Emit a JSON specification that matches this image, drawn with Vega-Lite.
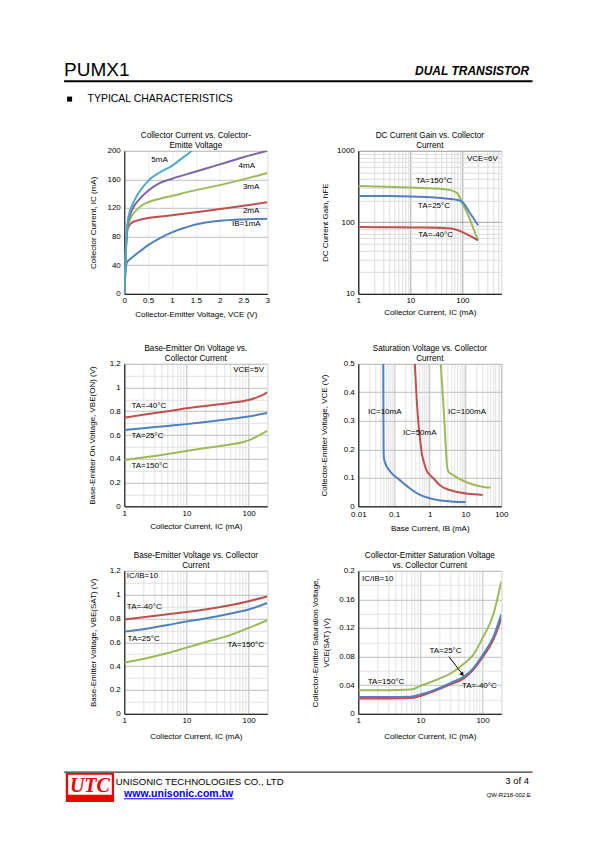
{
"$schema": "https://vega.github.io/schema/vega-lite/v6.json",
"background": "white",
"padding": {"left": 62.3, "top": 57.8, "right": 0, "bottom": 5},
"columns": 2,
"bounds": "flush",
"align": "none",
"spacing": {"row": 0, "column": 91},
"resolve": {"scale": {"color": "independent"}, "legend": {"color": "independent"}},
"config": {
 "font": "Liberation Sans, Arial, sans-serif",
 "view": {"stroke": null},
 "axis": {"labelFontSize": 8, "labelColor": "#000", "titleFontSize": 8, "titleFontWeight": "normal", "titleColor": "#000", "titleBaseline": "middle", "ticks": false, "domainColor": "#000", "domainWidth": 1, "gridColor": "#bfbfbf", "labelFlush": false, "labelOverlap": false, "labelPadding": 3},
 "axisY": {"labelPadding": 4},
 "title": {"fontSize": 8.2, "fontWeight": "normal", "color": "#000", "offset": -3, "lineHeight": 10},
 "text": {"fontSize": 8, "color": "#000", "baseline": "middle"}
},
"concat": [
{
 "width": 143, "height": 92.3, "view": {"stroke": null},
 "data": {"values": [{"part": "brand", "label": "PUMX1"}, {"part": "kind", "label": "DUAL TRANSISTOR"}, {"part": "section", "label": "TYPICAL CHARACTERISTICS"}]},
 "layer": [
  {"transform": [{"filter": "datum.part === 'brand'"}], "mark": {"type": "rule", "color": "#000", "strokeWidth": 2},
   "encoding": {"x": {"datum": -60.2, "type": "quantitative", "scale": {"domain": [0, 143], "nice": false, "zero": false}, "axis": null}, "x2": {"datum": 408.2}, "y": {"datum": 23.5, "type": "quantitative", "scale": {"domain": [0, 92.3], "reverse": true, "nice": false, "zero": false}, "axis": null}}},
  {"transform": [{"filter": "datum.part === 'brand'"}], "mark": {"type": "text", "align": "left", "baseline": "alphabetic", "fontSize": 19, "color": "#000"},
   "encoding": {"x": {"datum": -60.2, "type": "quantitative"}, "y": {"datum": 18.5, "type": "quantitative"}, "text": {"field": "label"}}},
  {"transform": [{"filter": "datum.part === 'kind'"}], "mark": {"type": "text", "align": "right", "baseline": "alphabetic", "fontSize": 12, "fontWeight": "bold", "fontStyle": "italic", "color": "#000"},
   "encoding": {"x": {"datum": 404.8, "type": "quantitative"}, "y": {"datum": 17.5, "type": "quantitative"}, "text": {"field": "label"}}},
  {"transform": [{"filter": "datum.part === 'section'"}], "mark": {"type": "point", "shape": "square", "filled": true, "size": 25, "color": "#000", "opacity": 1},
   "encoding": {"x": {"datum": -54.7, "type": "quantitative"}, "y": {"datum": 41.3, "type": "quantitative"}}},
  {"transform": [{"filter": "datum.part === 'section'"}], "mark": {"type": "text", "align": "left", "baseline": "alphabetic", "fontSize": 10.5, "color": "#000"},
   "encoding": {"x": {"datum": -36.8, "type": "quantitative"}, "y": {"datum": 44.2, "type": "quantitative"}, "text": {"field": "label"}}}
 ]
},
{"width": 1, "height": 92.3, "view": {"stroke": null}, "data": {"values": []}, "mark": "point"},
{
 "width": 143, "height": 143, "view": {"stroke": "#d9d9d9"},
 "title": {"text": ["Collector Current vs. Colector-", "Emitte Voltage"]},
 "encoding": {
  "x": {"field": "x", "type": "quantitative", "scale": {"domain": [0, 3], "nice": false}, "axis": {"title": "Collector-Emitter Voltage, VCE (V)", "values": [0, 0.5, 1, 1.5, 2, 2.5, 3], "format": "~g", "gridColor": "#ebebeb", "titleY": 20.3}},
  "y": {"field": "y", "type": "quantitative", "scale": {"domain": [0, 200], "nice": false}, "axis": {"title": "Collector Current, IC (mA)", "values": [0, 40, 80, 120, 160, 200], "titleX": -30.6}}
 },
 "layer": [
  {"data": {"values": [
   {"x": 0, "y": 0, "s": "1mA"}, {"x": 0.03, "y": 33, "s": "1mA"}, {"x": 0.05, "y": 43, "s": "1mA"}, {"x": 0.08, "y": 46, "s": "1mA"}, {"x": 0.15, "y": 50, "s": "1mA"}, {"x": 0.3, "y": 58, "s": "1mA"}, {"x": 0.5, "y": 68, "s": "1mA"}, {"x": 0.75, "y": 78, "s": "1mA"}, {"x": 1, "y": 86, "s": "1mA"}, {"x": 1.25, "y": 92, "s": "1mA"}, {"x": 1.5, "y": 97, "s": "1mA"}, {"x": 1.75, "y": 100, "s": "1mA"}, {"x": 2, "y": 102, "s": "1mA"}, {"x": 2.5, "y": 104, "s": "1mA"}, {"x": 3, "y": 105, "s": "1mA"},
   {"x": 0, "y": 0, "s": "2mA"}, {"x": 0.03, "y": 55, "s": "2mA"}, {"x": 0.06, "y": 88, "s": "2mA"}, {"x": 0.1, "y": 95, "s": "2mA"}, {"x": 0.15, "y": 99, "s": "2mA"}, {"x": 0.25, "y": 102, "s": "2mA"}, {"x": 0.5, "y": 106, "s": "2mA"}, {"x": 0.75, "y": 108, "s": "2mA"}, {"x": 1, "y": 110, "s": "2mA"}, {"x": 1.5, "y": 114, "s": "2mA"}, {"x": 2, "y": 118.5, "s": "2mA"}, {"x": 2.5, "y": 123, "s": "2mA"}, {"x": 3, "y": 128, "s": "2mA"},
   {"x": 0, "y": 0, "s": "3mA"}, {"x": 0.03, "y": 56, "s": "3mA"}, {"x": 0.07, "y": 92, "s": "3mA"}, {"x": 0.12, "y": 104, "s": "3mA"}, {"x": 0.2, "y": 113, "s": "3mA"}, {"x": 0.3, "y": 120, "s": "3mA"}, {"x": 0.4, "y": 125, "s": "3mA"}, {"x": 0.5, "y": 128, "s": "3mA"}, {"x": 0.75, "y": 133, "s": "3mA"}, {"x": 1, "y": 137, "s": "3mA"}, {"x": 1.5, "y": 145, "s": "3mA"}, {"x": 2, "y": 152, "s": "3mA"}, {"x": 2.5, "y": 160, "s": "3mA"}, {"x": 3, "y": 169, "s": "3mA"},
   {"x": 0, "y": 0, "s": "4mA"}, {"x": 0.03, "y": 58, "s": "4mA"}, {"x": 0.07, "y": 96, "s": "4mA"}, {"x": 0.12, "y": 110, "s": "4mA"}, {"x": 0.2, "y": 122, "s": "4mA"}, {"x": 0.3, "y": 131, "s": "4mA"}, {"x": 0.5, "y": 144, "s": "4mA"}, {"x": 0.75, "y": 155, "s": "4mA"}, {"x": 1, "y": 161, "s": "4mA"}, {"x": 1.5, "y": 171, "s": "4mA"}, {"x": 2, "y": 181, "s": "4mA"}, {"x": 2.5, "y": 191, "s": "4mA"}, {"x": 3, "y": 200, "s": "4mA"},
   {"x": 0, "y": 0, "s": "5mA"}, {"x": 0.03, "y": 60, "s": "5mA"}, {"x": 0.07, "y": 100, "s": "5mA"}, {"x": 0.12, "y": 116, "s": "5mA"}, {"x": 0.2, "y": 129, "s": "5mA"}, {"x": 0.3, "y": 141, "s": "5mA"}, {"x": 0.5, "y": 158, "s": "5mA"}, {"x": 0.75, "y": 170, "s": "5mA"}, {"x": 1, "y": 179, "s": "5mA"}, {"x": 1.2, "y": 189, "s": "5mA"}, {"x": 1.42, "y": 200, "s": "5mA"}
  ]},
   "mark": {"type": "line", "interpolate": "monotone", "strokeWidth": 2, "clip": true},
   "encoding": {"color": {"field": "s", "type": "nominal", "scale": {"domain": ["1mA", "2mA", "3mA", "4mA", "5mA"], "range": ["#4F81BD", "#C0504D", "#9BBB59", "#8064A2", "#4BACC6"]}, "legend": null}}},
  {"data": {"values": [{"x": 0.74, "y": 187, "t": "5mA"}, {"x": 2.57, "y": 179, "t": "4mA"}, {"x": 2.66, "y": 150, "t": "3mA"}, {"x": 2.66, "y": 116, "t": "2mA"}, {"x": 2.56, "y": 97, "t": "IB=1mA"}]},
   "mark": {"type": "text", "align": "center"}, "encoding": {"text": {"field": "t"}}}
 ]
},
{
 "width": 143, "height": 143, "view": {"stroke": "#d9d9d9"},
 "title": {"text": ["DC Current Gain vs. Collector", "Current"]},
 "encoding": {
  "x": {"field": "x", "type": "quantitative", "scale": {"type": "log", "domain": [1, 560], "nice": false}, "axis": {"title": "Collector Current, IC (mA)", "values": [1, 2, 3, 4, 5, 6, 7, 8, 9, 10, 20, 30, 40, 50, 60, 70, 80, 90, 100, 200, 300, 400, 500], "format": "~g", "labelExpr": "abs(log(datum.value)/LN10 - round(log(datum.value)/LN10)) < 0.001 ? datum.label : ''", "gridColor": {"condition": {"test": "abs(log(datum.value)/LN10 - round(log(datum.value)/LN10)) < 0.001", "value": "#a6a6a6"}, "value": "#dcdcdc"}, "titleY": 18.4}},
  "y": {"field": "y", "type": "quantitative", "scale": {"type": "log", "domain": [10, 1000], "nice": false}, "axis": {"title": "DC Current Gain, hFE", "values": [10, 20, 30, 40, 50, 60, 70, 80, 90, 100, 200, 300, 400, 500, 600, 700, 800, 900, 1000], "format": "~g", "labelExpr": "abs(log(datum.value)/LN10 - round(log(datum.value)/LN10)) < 0.001 ? datum.label : ''", "gridColor": {"condition": {"test": "abs(log(datum.value)/LN10 - round(log(datum.value)/LN10)) < 0.001", "value": "#a6a6a6"}, "value": "#dcdcdc"}, "titleX": -32.7}}
 },
 "layer": [
  {"data": {"values": [
   {"x": 1, "y": 322, "s": "150"}, {"x": 2, "y": 318, "s": "150"}, {"x": 5, "y": 312, "s": "150"}, {"x": 10, "y": 306, "s": "150"}, {"x": 20, "y": 300, "s": "150"}, {"x": 40, "y": 292, "s": "150"}, {"x": 60, "y": 282, "s": "150"}, {"x": 80, "y": 255, "s": "150"}, {"x": 100, "y": 185, "s": "150"}, {"x": 140, "y": 110, "s": "150"}, {"x": 170, "y": 75, "s": "150"}, {"x": 200, "y": 56, "s": "150"},
   {"x": 1, "y": 234, "s": "25"}, {"x": 3, "y": 233, "s": "25"}, {"x": 10, "y": 230, "s": "25"}, {"x": 30, "y": 222, "s": "25"}, {"x": 60, "y": 212, "s": "25"}, {"x": 80, "y": 205, "s": "25"}, {"x": 100, "y": 192, "s": "25"}, {"x": 140, "y": 135, "s": "25"}, {"x": 200, "y": 91, "s": "25"},
   {"x": 1, "y": 86, "s": "-40"}, {"x": 5, "y": 85, "s": "-40"}, {"x": 10, "y": 84.5, "s": "-40"}, {"x": 30, "y": 84, "s": "-40"}, {"x": 60, "y": 82, "s": "-40"}, {"x": 80, "y": 78, "s": "-40"}, {"x": 100, "y": 73, "s": "-40"}, {"x": 150, "y": 63, "s": "-40"}, {"x": 200, "y": 56, "s": "-40"}
  ]},
   "mark": {"type": "line", "interpolate": "monotone", "strokeWidth": 2, "clip": true},
   "encoding": {"color": {"field": "s", "type": "nominal", "scale": {"domain": ["-40", "25", "150"], "range": ["#C0504D", "#4F81BD", "#9BBB59"]}, "legend": null}}},
  {"data": {"values": [{"x": 28.4, "y": 383, "t": "TA=150°C"}, {"x": 28.4, "y": 168, "t": "TA=25°C"}, {"x": 30.6, "y": 67, "t": "TA=-40°C"}]},
   "mark": {"type": "text", "align": "center"}, "encoding": {"text": {"field": "t"}}},
  {"data": {"values": [{"x": 480, "y": 774, "t": "VCE=6V"}]},
   "mark": {"type": "text", "align": "right"}, "encoding": {"text": {"field": "t"}}}
 ]
},
{"width": 143, "height": 69.7, "view": {"stroke": null}, "data": {"values": []}, "mark": "point"},
{"width": 1, "height": 69.7, "view": {"stroke": null}, "data": {"values": []}, "mark": "point"},
{
 "width": 143, "height": 142.5, "view": {"stroke": "#d9d9d9"},
 "title": {"text": ["Base-Emitter On Voltage vs.", "Collector Current"]},
 "encoding": {
  "x": {"field": "x", "type": "quantitative", "scale": {"type": "log", "domain": [1, 200], "nice": false}, "axis": {"title": "Collector Current, IC (mA)", "values": [1, 2, 3, 4, 5, 6, 7, 8, 9, 10, 20, 30, 40, 50, 60, 70, 80, 90, 100, 200], "format": "~g", "labelExpr": "abs(log(datum.value)/LN10 - round(log(datum.value)/LN10)) < 0.001 ? datum.label : ''", "gridColor": {"condition": {"test": "abs(log(datum.value)/LN10 - round(log(datum.value)/LN10)) < 0.001", "value": "#bfbfbf"}, "value": "#e3e3e3"}, "titleY": 20}},
  "y": {"field": "y", "type": "quantitative", "scale": {"domain": [0, 1.2], "nice": false}, "axis": {"title": "Base-Emitter On Voltage, VBE(ON) (V)", "values": [0, 0.1, 0.2, 0.3, 0.4, 0.5, 0.6, 0.7, 0.8, 0.9, 1, 1.1, 1.2], "format": "~g", "labelExpr": "round(datum.value*10) % 2 == 0 ? datum.label : ''", "gridColor": {"condition": {"test": "round(datum.value*10) % 2 == 0", "value": "#bfbfbf"}, "value": "#e3e3e3"}, "titleX": -31.6}}
 },
 "layer": [
  {"data": {"values": [
   {"x": 1, "y": 0.745, "s": "-40"}, {"x": 2, "y": 0.77, "s": "-40"}, {"x": 5, "y": 0.8, "s": "-40"}, {"x": 10, "y": 0.825, "s": "-40"}, {"x": 20, "y": 0.845, "s": "-40"}, {"x": 50, "y": 0.87, "s": "-40"}, {"x": 100, "y": 0.895, "s": "-40"}, {"x": 150, "y": 0.925, "s": "-40"}, {"x": 200, "y": 0.96, "s": "-40"},
   {"x": 1, "y": 0.642, "s": "25"}, {"x": 2, "y": 0.657, "s": "25"}, {"x": 5, "y": 0.677, "s": "25"}, {"x": 10, "y": 0.692, "s": "25"}, {"x": 20, "y": 0.71, "s": "25"}, {"x": 50, "y": 0.735, "s": "25"}, {"x": 100, "y": 0.757, "s": "25"}, {"x": 200, "y": 0.785, "s": "25"},
   {"x": 1, "y": 0.39, "s": "150"}, {"x": 2, "y": 0.41, "s": "150"}, {"x": 5, "y": 0.44, "s": "150"}, {"x": 10, "y": 0.465, "s": "150"}, {"x": 20, "y": 0.49, "s": "150"}, {"x": 50, "y": 0.52, "s": "150"}, {"x": 80, "y": 0.54, "s": "150"}, {"x": 100, "y": 0.555, "s": "150"}, {"x": 150, "y": 0.6, "s": "150"}, {"x": 200, "y": 0.635, "s": "150"}
  ]},
   "mark": {"type": "line", "interpolate": "monotone", "strokeWidth": 2, "clip": true},
   "encoding": {"color": {"field": "s", "type": "nominal", "scale": {"domain": ["-40", "25", "150"], "range": ["#C0504D", "#4F81BD", "#9BBB59"]}, "legend": null}}},
  {"data": {"values": [{"x": 1.3, "y": 0.847, "t": "TA=-40°C"}, {"x": 1.3, "y": 0.595, "t": "TA=25°C"}, {"x": 1.3, "y": 0.336, "t": "TA=150°C"}]},
   "mark": {"type": "text", "align": "left"}, "encoding": {"text": {"field": "t"}}},
  {"data": {"values": [{"x": 100, "y": 1.145, "t": "VCE=5V"}]},
   "mark": {"type": "text", "align": "center"}, "encoding": {"text": {"field": "t"}}}
 ]
},
{
 "width": 143, "height": 142.5, "view": {"stroke": "#d9d9d9"},
 "title": {"text": ["Saturation Voltage vs. Collector", "Current"]},
 "encoding": {
  "x": {"field": "x", "type": "quantitative", "scale": {"type": "log", "domain": [0.01, 100], "nice": false}, "axis": {"title": "Base Current, IB (mA)", "labelPadding": 4.5, "values": [0.01, 0.02, 0.03, 0.04, 0.05, 0.06, 0.07, 0.08, 0.09, 0.1, 0.2, 0.3, 0.4, 0.5, 0.6, 0.7, 0.8, 0.9, 1, 2, 3, 4, 5, 6, 7, 8, 9, 10, 20, 30, 40, 50, 60, 70, 80, 90, 100], "format": "~g", "labelExpr": "abs(log(datum.value)/LN10 - round(log(datum.value)/LN10)) < 0.001 ? datum.label : ''", "gridColor": {"condition": {"test": "abs(log(datum.value)/LN10 - round(log(datum.value)/LN10)) < 0.001", "value": "#bfbfbf"}, "value": "#e3e3e3"}, "titleY": 21.8}},
  "y": {"field": "y", "type": "quantitative", "scale": {"domain": [0, 0.5], "nice": false}, "axis": {"title": "Collector-Emitter Voltage, VCE (V)", "values": [0, 0.1, 0.2, 0.3, 0.4, 0.5], "format": "~g", "titleX": -33.4}}
 },
 "layer": [
  {"data": {"values": [
   {"x": 0.05, "y": 0.5, "s": "10"}, {"x": 0.0505, "y": 0.3, "s": "10"}, {"x": 0.051, "y": 0.2, "s": "10"}, {"x": 0.052, "y": 0.17, "s": "10"}, {"x": 0.058, "y": 0.148, "s": "10"}, {"x": 0.07, "y": 0.13, "s": "10"}, {"x": 0.1, "y": 0.108, "s": "10"}, {"x": 0.13, "y": 0.097, "s": "10"}, {"x": 0.2, "y": 0.077, "s": "10"}, {"x": 0.3, "y": 0.06, "s": "10"}, {"x": 0.5, "y": 0.042, "s": "10"}, {"x": 1, "y": 0.028, "s": "10"}, {"x": 2, "y": 0.02, "s": "10"}, {"x": 5, "y": 0.016, "s": "10"}, {"x": 10, "y": 0.015, "s": "10"},
   {"x": 0.38, "y": 0.5, "s": "50"}, {"x": 0.42, "y": 0.4, "s": "50"}, {"x": 0.47, "y": 0.305, "s": "50"}, {"x": 0.53, "y": 0.24, "s": "50"}, {"x": 0.585, "y": 0.193, "s": "50"}, {"x": 0.7, "y": 0.15, "s": "50"}, {"x": 0.8, "y": 0.128, "s": "50"}, {"x": 1, "y": 0.11, "s": "50"}, {"x": 1.24, "y": 0.099, "s": "50"}, {"x": 2, "y": 0.072, "s": "50"}, {"x": 2.6, "y": 0.064, "s": "50"}, {"x": 5, "y": 0.052, "s": "50"}, {"x": 12, "y": 0.044, "s": "50"}, {"x": 30, "y": 0.04, "s": "50"},
   {"x": 2.03, "y": 0.5, "s": "100"}, {"x": 2.52, "y": 0.314, "s": "100"}, {"x": 3.05, "y": 0.14, "s": "100"}, {"x": 3.2, "y": 0.125, "s": "100"}, {"x": 3.6, "y": 0.117, "s": "100"}, {"x": 4.2, "y": 0.112, "s": "100"}, {"x": 6, "y": 0.1, "s": "100"}, {"x": 10, "y": 0.086, "s": "100"}, {"x": 20, "y": 0.073, "s": "100"}, {"x": 35, "y": 0.067, "s": "100"}, {"x": 50, "y": 0.066, "s": "100"}
  ]},
   "mark": {"type": "line", "interpolate": "monotone", "strokeWidth": 2, "clip": true},
   "encoding": {"color": {"field": "s", "type": "nominal", "scale": {"domain": ["10", "50", "100"], "range": ["#4F81BD", "#C0504D", "#9BBB59"]}, "legend": null}}},
  {"data": {"values": [{"x": 0.055, "y": 0.331, "t": "IC=10mA"}, {"x": 0.524, "y": 0.258, "t": "IC=50mA"}, {"x": 11, "y": 0.331, "t": "IC=100mA"}]},
   "mark": {"type": "text", "align": "center"}, "encoding": {"text": {"field": "t"}}}
 ]
},
{"width": 143, "height": 63.8, "view": {"stroke": null}, "data": {"values": []}, "mark": "point"},
{"width": 1, "height": 63.8, "view": {"stroke": null}, "data": {"values": []}, "mark": "point"},
{
 "width": 143, "height": 143, "view": {"stroke": "#d9d9d9"},
 "title": {"text": ["Base-Emitter Voltage vs. Collector", "Current"]},
 "encoding": {
  "x": {"field": "x", "type": "quantitative", "scale": {"type": "log", "domain": [1, 200], "nice": false}, "axis": {"title": "Collector Current, IC (mA)", "values": [1, 2, 3, 4, 5, 6, 7, 8, 9, 10, 20, 30, 40, 50, 60, 70, 80, 90, 100, 200], "format": "~g", "labelExpr": "abs(log(datum.value)/LN10 - round(log(datum.value)/LN10)) < 0.001 ? datum.label : ''", "gridColor": {"condition": {"test": "abs(log(datum.value)/LN10 - round(log(datum.value)/LN10)) < 0.001", "value": "#bfbfbf"}, "value": "#e3e3e3"}, "titleY": 22.4}},
  "y": {"field": "y", "type": "quantitative", "scale": {"domain": [0, 1.2], "nice": false}, "axis": {"title": "Base-Emitter Voltage, VBE(SAT) (V)", "values": [0, 0.1, 0.2, 0.3, 0.4, 0.5, 0.6, 0.7, 0.8, 0.9, 1, 1.1, 1.2], "format": "~g", "labelExpr": "round(datum.value*10) % 2 == 0 ? datum.label : ''", "gridColor": {"condition": {"test": "round(datum.value*10) % 2 == 0", "value": "#bfbfbf"}, "value": "#e3e3e3"}, "titleX": -30.7}}
 },
 "layer": [
  {"data": {"values": [
   {"x": 1, "y": 0.79, "s": "-40"}, {"x": 2, "y": 0.81, "s": "-40"}, {"x": 5, "y": 0.835, "s": "-40"}, {"x": 10, "y": 0.855, "s": "-40"}, {"x": 20, "y": 0.875, "s": "-40"}, {"x": 50, "y": 0.91, "s": "-40"}, {"x": 100, "y": 0.945, "s": "-40"}, {"x": 200, "y": 0.985, "s": "-40"},
   {"x": 1, "y": 0.69, "s": "25"}, {"x": 2, "y": 0.71, "s": "25"}, {"x": 5, "y": 0.745, "s": "25"}, {"x": 10, "y": 0.775, "s": "25"}, {"x": 20, "y": 0.8, "s": "25"}, {"x": 50, "y": 0.84, "s": "25"}, {"x": 100, "y": 0.875, "s": "25"}, {"x": 200, "y": 0.93, "s": "25"},
   {"x": 1, "y": 0.43, "s": "150"}, {"x": 2, "y": 0.46, "s": "150"}, {"x": 5, "y": 0.51, "s": "150"}, {"x": 10, "y": 0.555, "s": "150"}, {"x": 20, "y": 0.6, "s": "150"}, {"x": 50, "y": 0.66, "s": "150"}, {"x": 100, "y": 0.72, "s": "150"}, {"x": 200, "y": 0.785, "s": "150"}
  ]},
   "mark": {"type": "line", "interpolate": "monotone", "strokeWidth": 2, "clip": true},
   "encoding": {"color": {"field": "s", "type": "nominal", "scale": {"domain": ["-40", "25", "150"], "range": ["#C0504D", "#4F81BD", "#9BBB59"]}, "legend": null}}},
  {"data": {"values": [{"x": 1.1, "y": 1.153, "t": "IC/IB=10"}, {"x": 1.1, "y": 0.893, "t": "TA=-40°C"}, {"x": 1.13, "y": 0.63, "t": "TA=25°C"}]},
   "mark": {"type": "text", "align": "left"}, "encoding": {"text": {"field": "t"}}},
  {"data": {"values": [{"x": 90, "y": 0.58, "t": "TA=150°C"}]},
   "mark": {"type": "text", "align": "center"}, "encoding": {"text": {"field": "t"}}}
 ]
},
{
 "width": 143, "height": 143, "view": {"stroke": "#d9d9d9"},
 "title": {"text": ["Collector-Emitter Saturation Voltage", "vs. Collector Current"]},
 "encoding": {
  "x": {"field": "x", "type": "quantitative", "scale": {"type": "log", "domain": [1, 200], "nice": false}, "axis": {"title": "Collector Current, IC (mA)", "values": [1, 2, 3, 4, 5, 6, 7, 8, 9, 10, 20, 30, 40, 50, 60, 70, 80, 90, 100, 200], "format": "~g", "labelExpr": "abs(log(datum.value)/LN10 - round(log(datum.value)/LN10)) < 0.001 ? datum.label : ''", "gridColor": {"condition": {"test": "abs(log(datum.value)/LN10 - round(log(datum.value)/LN10)) < 0.001", "value": "#bfbfbf"}, "value": "#e3e3e3"}, "titleY": 23}},
  "y": {"field": "y", "type": "quantitative", "scale": {"domain": [0, 0.2], "nice": false}, "axis": {"title": ["Collector-Emitter Saturation Voltage,", "VCE(SAT) (V)"], "values": [0, 0.02, 0.04, 0.06, 0.08, 0.1, 0.12, 0.14, 0.16, 0.18, 0.2], "format": "~g", "labelExpr": "round(datum.value*100) % 4 == 0 ? datum.label : ''", "gridColor": {"condition": {"test": "round(datum.value*100) % 4 == 0", "value": "#bfbfbf"}, "value": "#e3e3e3"}, "titleX": -42.7, "titleLineHeight": 10.5}}
 },
 "layer": [
  {"data": {"values": [
   {"x": 1, "y": 0.033, "s": "150"}, {"x": 3, "y": 0.033, "s": "150"}, {"x": 7, "y": 0.034, "s": "150"}, {"x": 10, "y": 0.039, "s": "150"}, {"x": 20, "y": 0.049, "s": "150"}, {"x": 30, "y": 0.056, "s": "150"}, {"x": 50, "y": 0.07, "s": "150"}, {"x": 70, "y": 0.082, "s": "150"}, {"x": 100, "y": 0.106, "s": "150"}, {"x": 150, "y": 0.14, "s": "150"}, {"x": 200, "y": 0.185, "s": "150"},
   {"x": 1, "y": 0.0215, "s": "-40"}, {"x": 3, "y": 0.0215, "s": "-40"}, {"x": 7, "y": 0.022, "s": "-40"}, {"x": 10, "y": 0.025, "s": "-40"}, {"x": 20, "y": 0.0345, "s": "-40"}, {"x": 30, "y": 0.041, "s": "-40"}, {"x": 50, "y": 0.0495, "s": "-40"}, {"x": 70, "y": 0.061, "s": "-40"}, {"x": 100, "y": 0.079, "s": "-40"}, {"x": 150, "y": 0.104, "s": "-40"}, {"x": 200, "y": 0.133, "s": "-40"},
   {"x": 1, "y": 0.0235, "s": "25"}, {"x": 3, "y": 0.0235, "s": "25"}, {"x": 7, "y": 0.024, "s": "25"}, {"x": 10, "y": 0.027, "s": "25"}, {"x": 20, "y": 0.036, "s": "25"}, {"x": 30, "y": 0.043, "s": "25"}, {"x": 50, "y": 0.052, "s": "25"}, {"x": 70, "y": 0.063, "s": "25"}, {"x": 100, "y": 0.082, "s": "25"}, {"x": 150, "y": 0.108, "s": "25"}, {"x": 200, "y": 0.139, "s": "25"}
  ]},
   "mark": {"type": "line", "interpolate": "monotone", "strokeWidth": 2, "clip": true},
   "encoding": {"color": {"field": "s", "type": "nominal", "scale": {"domain": ["-40", "25", "150"], "range": ["#C0504D", "#4F81BD", "#9BBB59"]}, "legend": null}}},
  {"data": {"values": [{"x": 1.15, "y": 0.188, "t": "IC/IB=10"}]},
   "mark": {"type": "text", "align": "left"}, "encoding": {"text": {"field": "t"}}},
  {"data": {"values": [{"x": 25.3, "y": 0.0883, "t": "TA=25°C"}, {"x": 88.7, "y": 0.039, "t": "TA=-40°C"}, {"x": 2.8, "y": 0.0449, "t": "TA=150°C"}]},
   "mark": {"type": "text", "align": "center"}, "encoding": {"text": {"field": "t"}}},
  {"data": {"values": [{"x": 28.7, "y": 0.08, "x2": 46, "y2": 0.0568}]},
   "mark": {"type": "rule", "color": "#000", "strokeWidth": 1}, "encoding": {"x2": {"field": "x2"}, "y2": {"field": "y2"}}},
  {"data": {"values": [{"x": 47.4, "y": 0.055}]},
   "mark": {"type": "point", "shape": "triangle-down", "filled": true, "size": 22, "color": "#000", "opacity": 1, "angle": -37}}
 ]
},
{"width": 143, "height": 57.7, "view": {"stroke": null}, "data": {"values": []}, "mark": "point"},
{"width": 1, "height": 57.7, "view": {"stroke": null}, "data": {"values": []}, "mark": "point"},
{
 "width": 143, "height": 31, "view": {"stroke": null},
 "data": {"values": [{"part": "logo", "label": "UTC"}, {"part": "company", "label": "UNISONIC TECHNOLOGIES CO., LTD"}, {"part": "url", "label": "www.unisonic.com.tw"}, {"part": "page", "label": "3 of 4"}, {"part": "doc", "label": "QW-R218-002.E"}]},
 "layer": [
  {"transform": [{"filter": "datum.part === 'logo'"}], "mark": {"type": "rule", "color": "#000", "strokeWidth": 1},
   "encoding": {"x": {"datum": -60.2, "type": "quantitative", "scale": {"domain": [0, 143], "nice": false, "zero": false}, "axis": null}, "x2": {"datum": 408.2}, "y": {"datum": 0.3, "type": "quantitative", "scale": {"domain": [0, 31], "reverse": true, "nice": false, "zero": false}, "axis": null}}},
  {"transform": [{"filter": "datum.part === 'logo'"}], "mark": {"type": "rect", "color": "#f00000"},
   "encoding": {"x": {"datum": -58.5, "type": "quantitative"}, "x2": {"datum": -10.2}, "y": {"datum": 1.3, "type": "quantitative"}, "y2": {"datum": 30.3}}},
  {"transform": [{"filter": "datum.part === 'logo'"}], "mark": {"type": "rect", "color": "#ffffff"},
   "encoding": {"x": {"datum": -56.2, "type": "quantitative"}, "x2": {"datum": -12.5}, "y": {"datum": 3, "type": "quantitative"}, "y2": {"datum": 23}}},
  {"transform": [{"filter": "datum.part === 'logo'"}], "mark": {"type": "text", "align": "center", "baseline": "alphabetic", "font": "Liberation Serif, Times New Roman, serif", "fontSize": 20, "fontWeight": "bold", "fontStyle": "italic", "color": "#f00000"},
   "encoding": {"x": {"datum": -34.4, "type": "quantitative"}, "y": {"datum": 20.5, "type": "quantitative"}, "text": {"field": "label"}}},
  {"transform": [{"filter": "datum.part === 'company'"}], "mark": {"type": "text", "align": "left", "baseline": "alphabetic", "fontSize": 9.6, "color": "#000"},
   "encoding": {"x": {"datum": -8.5, "type": "quantitative"}, "y": {"datum": 13, "type": "quantitative"}, "text": {"field": "label"}}},
  {"transform": [{"filter": "datum.part === 'url'"}], "mark": {"type": "text", "align": "left", "baseline": "alphabetic", "fontSize": 10.5, "fontWeight": "bold", "color": "#0000ff"},
   "encoding": {"x": {"datum": -0.2, "type": "quantitative"}, "y": {"datum": 25.5, "type": "quantitative"}, "text": {"field": "label"}}},
  {"transform": [{"filter": "datum.part === 'url'"}], "mark": {"type": "rule", "color": "#0000ff", "strokeWidth": 1},
   "encoding": {"x": {"datum": -0.2, "type": "quantitative"}, "x2": {"datum": 109.2}, "y": {"datum": 27, "type": "quantitative"}}},
  {"transform": [{"filter": "datum.part === 'page'"}], "mark": {"type": "text", "align": "right", "baseline": "alphabetic", "fontSize": 9.5, "color": "#000"},
   "encoding": {"x": {"datum": 404.8, "type": "quantitative"}, "y": {"datum": 12.5, "type": "quantitative"}, "text": {"field": "label"}}},
  {"transform": [{"filter": "datum.part === 'doc'"}], "mark": {"type": "text", "align": "right", "baseline": "alphabetic", "fontSize": 6, "color": "#000"},
   "encoding": {"x": {"datum": 406.5, "type": "quantitative"}, "y": {"datum": 25, "type": "quantitative"}, "text": {"field": "label"}}}
 ]
}
]
}
